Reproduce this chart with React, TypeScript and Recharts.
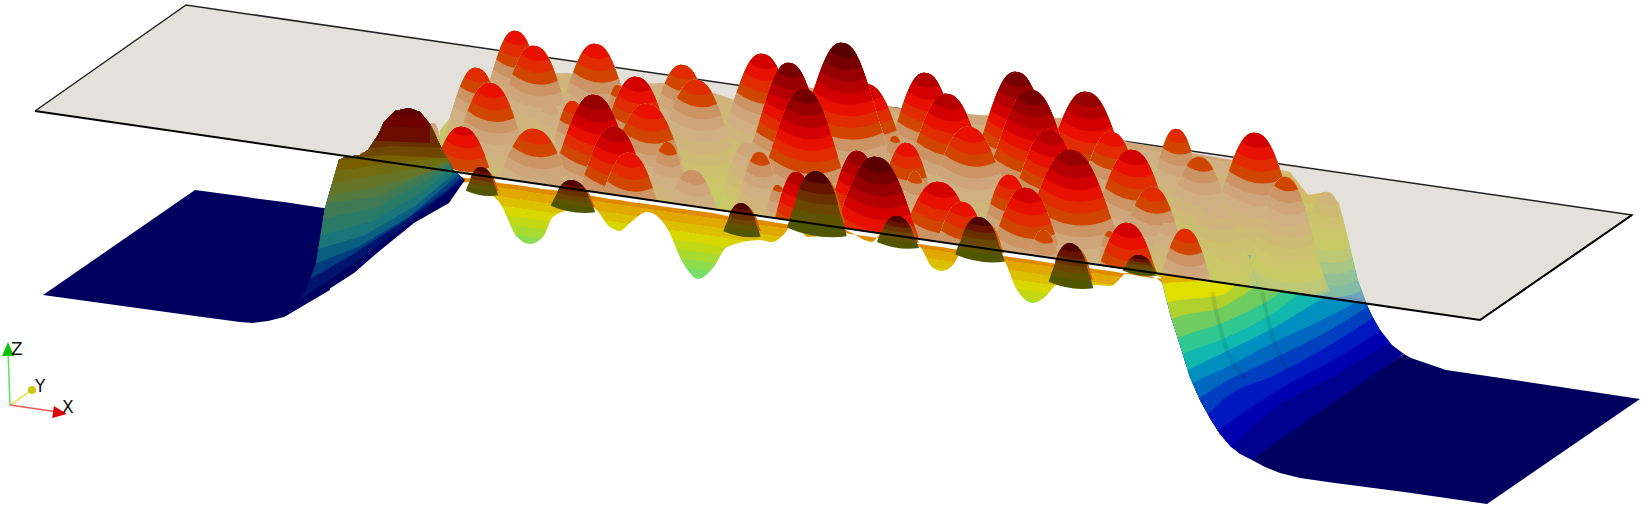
import { Area, ComposedChart, Line, Scatter, XAxis, YAxis } from 'recharts';

const WIDTH = 1642;
const HEIGHT = 508;

// plane corners and edges
const planeX = [35, 186, 1480, 1632];
const planeTop = [111, 5, 193, 215];
const planeBottom = [111, 133, 320, 215];
const planeBack = [{ x: 35, y: 111 }, { x: 186, y: 5 }, { x: 1632, y: 215 }, { x: 1480, y: 320 }];
const planeFront = [{ x: 35, y: 111 }, { x: 1480, y: 320 }, { x: 1632, y: 215 }];

// flat floors
const leftFloorX = [43, 195, 225, 240, 253, 268, 284, 330];
const leftFloorTop = [295, 190, 194, 196, 198, 200, 202, 209];
const leftFloorBottom = [295, 316, 320, 322, 323, 321, 317, 290];
const rightFloorX = [1252, 1265, 1280, 1300, 1335, 1404, 1411, 1446, 1487, 1640];
const rightFloorTop = [458, 448, 438, 424, 398, 354, 358, 370, 376, 399];
const rightFloorBottom = [460, 467, 473, 478, 483, 492, 493, 498, 504, 399];

// washed surface seen through the plane
const bodyX = [440, 470, 500, 568, 617, 680, 735, 760, 800, 897, 980, 1063, 1128, 1232, 1290];
const bodyTop = [130, 95, 75, 73, 85, 82, 100, 90, 85, 108, 115, 118, 142, 160, 172];
const bodyBottom = [170, 175, 180, 190, 197, 206, 214, 218, 223, 238, 249, 261, 271, 286, 295];
const bodyStops = ['#cfa67a', '#d0b082', '#cfb47c', '#cdbb74', '#cdc06e', '#cbc66a', '#c8c964', '#c8c964'];

const washX = [1230, 1290, 1308, 1327, 1339, 1349, 1358, 1367];
const washTop = [160, 172, 195, 192, 203, 243, 280, 304];
const washBottom = [285, 294, 296, 299, 301, 302, 303, 304];
const washStops = ['#d6b868', '#d3be68', '#cdc46a', '#c3c670', '#b4c57a', '#a4c284', '#94bf90', '#84bb9c', '#78b8a6', '#70b2b0', '#6ca6b6', '#7098bc'];

// domes: apex, spread in px, first colour level
const domeX = [516, 535, 596, 477, 491, 683, 697, 637, 618, 595, 648, 573, 535, 615, 630, 668, 693, 760, 778, 763, 790, 843, 805, 867, 926, 948, 1017, 1032, 1087, 970, 1050, 1072, 1112, 1133, 1177, 1200, 1256, 895, 907, 915, 858, 877, 940, 963, 1010, 1027, 1087, 1153, 1128, 1044, 1110, 1186, 1216, 1167, 1230, 1286, 1327, 550, 517, 555, 748, 797, 433, 365];
const domeY = [31, 46, 44, 68, 83, 65, 80, 77, 85, 95, 104, 101, 129, 127, 153, 142, 170, 152, 185, 54, 63, 43, 89, 84, 73, 94, 72, 90, 92, 127, 130, 150, 132, 150, 129, 157, 133, 136, 143, 171, 151, 157, 182, 202, 175, 188, 187, 187, 223, 230, 231, 229, 203, 223, 249, 177, 192, 102, 127, 173, 143, 172, 123, 152];
const domeSpread = [26, 30, 30, 27, 31, 29, 32, 31, 16, 32, 34, 21, 36, 31, 30, 20, 29, 22, 16, 30, 28, 30, 30, 34, 29, 32, 30, 32, 33, 34, 31, 36, 29, 32, 23, 29, 31, 16, 26, 16, 26, 34, 36, 29, 26, 32, 29, 29, 31, 21, 16, 26, 34, 18, 29, 26, 23, 20, 20, 23, 26, 23, 13, 18];
const domeLevel = [5, 5, 5, 6, 5, 6, 6, 4, 7, 2, 5, 6, 6, 3, 5, 7, 8, 7, 7.5, 4, 1, 0, 1, 4, 3, 3, 1, 1, 2, 5, 3, 2, 5, 4, 6, 7, 4, 7.5, 5, 7, 2, 0, 4, 5, 5, 4, 6, 6, 4, 7, 7.5, 6, 10, 9, 13, 7, 11, 9, 10, 9, 9, 3, 9, 10];

const levelColors = ['#5a0000', '#760000', '#960000', '#b40000', '#d20000', '#e81000', '#e02c00', '#d04600', '#cc9465', '#cfa67a', '#d0b082', '#cfb47c', '#cdbb74', '#cdc06e', '#cbc66a', '#c8c964', '#bcc876', '#a8c686', '#94c096', '#82bca4'];

// front wall under the front edge of the plane
const wallX = [460, 473, 483, 500, 517, 530, 543, 553, 570, 593, 610, 620, 630, 647, 667, 683, 698, 713, 727, 760, 772, 785, 793, 808, 823, 840, 850, 872, 883, 920, 932, 942, 953, 963, 1003, 1017, 1033, 1045, 1057, 1083, 1095, 1110, 1128, 1153, 1165];
const wallBottom = [183, 182, 190, 203, 237, 244, 237, 217, 210, 208, 227, 231, 223, 212, 228, 263, 279, 268, 247, 240, 242, 233, 223, 237, 235, 228, 232, 242, 232, 247, 267, 271, 265, 250, 260, 290, 303, 297, 285, 289, 285, 286, 273, 277, 285];
const wallTop = [177, 179, 180, 183, 185, 187, 189, 190, 193, 196, 199, 200, 202, 204, 207, 209, 211, 213, 216, 220, 222, 224, 225, 227, 230, 232, 234, 237, 239, 244, 246, 247, 249, 250, 256, 258, 260, 262, 264, 267, 269, 271, 274, 278, 279];
const wallStops = ['#e08a00', '#e0a800', '#dcc000', '#d8d800', '#c2d814', '#a8da30', '#8edc50', '#78de6a', '#66e07e'];

// dark arches along the front edge
const archX = [482, 573, 742, 817, 898, 980, 1071, 1140];
const archY = [167, 180, 203, 171, 216, 217, 243, 255];
const archWidth = [13, 18, 15, 24, 17, 20, 18, 14];
const archLow = [193, 209, 234, 232, 245, 258, 285, 273];
const archColors = ['#4f0000', '#661400', '#6a3000', '#6a4600', '#5f5200', '#505600'];

// red ridge beside the left wall, drawn above the front edge
const shoulderX = [463];
const shoulderY = [127];
const shoulderSpread = [32];
const shoulderLevel = [4.5];
const shoulderLast = [7];

// left wall: outline, then height contours from low to high
const leftOutline = [[284, 317], [305, 293], [316, 263], [325, 208], [339, 160], [345, 157], [360, 155], [368, 150], [378, 135], [384, 122], [395, 111], [409, 108], [420, 112], [430, 124], [440, 145], [453, 170], [465, 180], [460, 187], [449, 203], [414, 223], [377, 253], [354, 273], [323, 293]];
const leftColors = ['#00005f', '#00146e', '#003c80', '#0a5f80', '#1a7578', '#2a7a68', '#3f7a55', '#557a40', '#667428', '#726c10', '#785f00', '#6e4800', '#6a3000', '#6a0c00', '#6e0000', '#5a0000'];
const leftContours = [
  [[270, 337], [480, 200]],
  [[270, 322], [300, 300], [350, 266], [400, 230], [440, 198], [470, 175]],
  [[270, 315], [305, 282], [350, 256], [400, 224], [445, 192], [470, 170]],
  [[270, 290], [310, 266], [360, 246], [410, 216], [450, 182], [470, 165]],
  [[270, 270], [315, 250], [365, 235], [415, 206], [450, 177], [470, 160]],
  [[270, 250], [318, 236], [370, 222], [420, 194], [445, 174], [470, 155]],
  [[270, 232], [322, 219], [375, 208], [420, 184], [440, 172], [470, 150]],
  [[270, 215], [325, 204], [380, 196], [420, 176], [440, 168], [470, 145]],
  [[270, 208], [328, 196], [380, 186], [430, 172], [470, 150]],
  [[270, 193], [332, 183], [380, 175], [435, 165], [470, 152]],
  [[270, 180], [336, 171], [380, 165], [440, 158], [470, 152]],
  [[270, 168], [340, 160], [385, 155], [445, 158], [470, 158]],
  [[270, 158], [350, 151], [390, 146], [445, 148]],
  [[270, 143], [360, 140], [430, 143]],
  [[270, 126], [370, 126], [430, 128]],
  [[270, 115], [385, 115], [430, 115]],
];

// right wall under the plane edge
const rightOutline = [[1150, 272], [1366, 303], [1372, 316], [1380, 330], [1392, 345], [1404, 354], [1252, 460], [1240, 454], [1231, 447], [1220, 434], [1211, 420], [1200, 400], [1190, 377], [1180, 345], [1171, 317], [1161, 277]];
const rightColors = ['#000090', '#0000b0', '#0018c0', '#0040c0', '#0068c0', '#0090c0', '#10b8b0', '#30c890', '#70cc60', '#b0d030', '#e0e000', '#e0b000'];
const rightContours = [
  [[1140, 540], [1240, 468], [1420, 343]],
  [[1140, 510], [1225, 452], [1275, 408], [1330, 378], [1420, 325]],
  [[1140, 490], [1212, 435], [1275, 392], [1330, 362], [1420, 305]],
  [[1140, 470], [1204, 418], [1225, 398], [1275, 375], [1330, 345], [1420, 285]],
  [[1140, 445], [1197, 400], [1225, 382], [1275, 358], [1330, 330], [1420, 270]],
  [[1140, 425], [1190, 385], [1225, 368], [1275, 342], [1330, 316], [1420, 265]],
  [[1140, 405], [1185, 372], [1225, 352], [1275, 327], [1320, 300], [1420, 250]],
  [[1140, 385], [1180, 356], [1225, 338], [1275, 312], [1305, 290], [1420, 240]],
  [[1140, 365], [1175, 340], [1225, 322], [1275, 296], [1290, 285], [1420, 230]],
  [[1140, 340], [1170, 320], [1225, 306], [1260, 284], [1420, 220]],
  [[1140, 315], [1165, 303], [1225, 294], [1240, 280], [1420, 210]],
  [[1140, 292], [1160, 284], [1205, 280], [1220, 275], [1420, 200]],
];
const rightCreases = [
  [{ x: 1212, y: 292 }, { x: 1222, y: 335 }, { x: 1245, y: 378 }],
  [{ x: 1262, y: 292 }, { x: 1272, y: 335 }, { x: 1290, y: 372 }],
];

// axis triad at lower left
const triadOrigin = { x: 10, y: 405 };
const triadEnds = [{ x: 8, y: 350, color: '#5fe05f' }, { x: 32, y: 390, color: '#e8e020' }, { x: 58, y: 412, color: '#ee5a5a' }];
const triadHeads = [
  { x: 8, y: 349, angle: 0, color: '#10c010' },
  { x: 60, y: 413, angle: 98, color: '#e00000' },
];
const triadBall = [{ x: 32, y: 390 }];
const triadLabels = [
  { x: 11, y: 355, text: 'Z' },
  { x: 35, y: 392, text: 'Y' },
  { x: 62, y: 413, text: 'X' },
];

const SLOPE_DEG = 8.2;
const BAND = 10.5;
const LAST_LEVEL = 19;
const BELL_POWER = 2.4;
const BELL_WIDTH = 1.27;

function bellPoints(spread: number, drop: number, tall: number) {
  const s = spread * BELL_WIDTH;
  const reach = s * Math.pow(Math.log(tall / (tall - drop)), 1 / BELL_POWER);
  const pts: string[] = [];
  for (let i = 0; i <= 20; i++) {
    const u = -reach + (2 * reach * i) / 20;
    const y = tall * (1 - Math.exp(-Math.pow(Math.abs(u) / s, BELL_POWER)));
    pts.push(`${i === 0 ? 'M' : 'L'}${u.toFixed(1)} ${y.toFixed(1)}`);
  }
  return { d: pts.join(' '), reach };
}

function DomeShape(props: any) {
  const { cx, cy, payload } = props;
  const { spread, level, last = LAST_LEVEL } = payload;
  const tall = 125;
  const caps = [];
  for (let lv = last; lv >= Math.floor(level); lv--) {
    const drop = Math.min((lv + 1 - level) * BAND, tall * 0.86);
    const { d, reach } = bellPoints(spread, drop, tall);
    const sag = reach * 0.6;
    caps.push(<path key={lv} d={`${d} Q0 ${(drop + sag).toFixed(1)} ${(-reach).toFixed(1)} ${drop.toFixed(1)} Z`} fill={levelColors[lv]} />);
  }
  return <g transform={`translate(${cx} ${cy}) skewY(${SLOPE_DEG})`}>{caps}</g>;
}

// rounded arch that flares a little where it meets the wall
function archCap(width: number, depth: number, drop: number, sag: number) {
  const edge = (t: number) => width * Math.sqrt(1 - (1 - t) * (1 - t)) * (t > 0.6 ? 1 + (t - 0.6) * 0.6 : 1);
  const tEnd = drop / depth;
  const pts: string[] = [];
  for (let i = 12; i >= 0; i--) {
    const t = tEnd * (i / 12);
    pts.push(`${i === 12 ? 'M' : 'L'}${(-edge(t)).toFixed(1)} ${(t * depth).toFixed(1)}`);
  }
  for (let i = 1; i <= 12; i++) {
    const t = tEnd * (i / 12);
    pts.push(`L${edge(t).toFixed(1)} ${(t * depth).toFixed(1)}`);
  }
  return `${pts.join(' ')} Q0 ${(drop + sag).toFixed(1)} ${(-edge(tEnd)).toFixed(1)} ${drop.toFixed(1)} Z`;
}

function ArchShape(props: any) {
  const { cx, cy, payload } = props;
  const { width, low } = payload;
  const depth = low - cy;
  const caps = [];
  for (let i = archColors.length - 1; i >= 0; i--) {
    const drop = (depth * (i + 1)) / archColors.length;
    const sag = i === archColors.length - 1 ? width * 0.35 : width * 0.18;
    caps.push(<path key={i} d={archCap(width, depth, drop, sag)} fill={archColors[i]} />);
  }
  return (
    <g transform={`translate(${cx} ${cy}) skewY(${SLOPE_DEG})`}>
      <path transform="translate(3 2)" d={archCap(width, depth, depth * 0.75, 0)} fill="#d05a00" />
      {caps}
    </g>
  );
}

function HeadShape(props: any) {
  const { cx, cy, payload } = props;
  return <path transform={`translate(${cx} ${cy}) rotate(${payload.angle})`} d="M0 -7 L6 7 L-6 7 Z" fill={payload.color} />;
}

function BallShape(props: any) {
  return <circle cx={props.cx} cy={props.cy} r={4} fill="#cfc810" />;
}

function TextShape(props: any) {
  return <text x={props.cx} y={props.cy} fontFamily="DejaVu Sans" fontSize={17} fill="#111">{props.payload.text}</text>;
}

const rangeRows = (xs: number[], lo: number[], hi: number[]) => xs.map((x, i) => ({ x, r: [lo[i], hi[i]] }));
const contourRows = (c: number[][]) => c.map(([x, y]) => ({ x, r: [y, 0] }));
const zipRows = (xs: number[], ys: number[], extra: (i: number) => object) => xs.map((x, i) => ({ x, y: ys[i], ...extra(i) }));

// back to front: depth of the spot where the dome meets the plane
const domeDepth = (d: any) => d.y + (8 - d.level) * BAND - 0.145 * d.x;
const domes = zipRows(domeX, domeY, (i) => ({ spread: domeSpread[i], level: domeLevel[i] })).sort((a, b) => domeDepth(a) - domeDepth(b));
const arches = zipRows(archX, archY, (i) => ({ width: archWidth[i], low: archLow[i] }));
const shoulders = zipRows(shoulderX, shoulderY, (i) => ({ spread: shoulderSpread[i], level: shoulderLevel[i], last: shoulderLast[i] }));

function steppedStops(colors: string[]) {
  return colors.flatMap((c, i) => [
    <stop key={`${i}a`} offset={i / colors.length} stopColor={c} />,
    <stop key={`${i}b`} offset={(i + 1) / colors.length} stopColor={c} />,
  ]);
}

const polyPoints = (o: number[][]) => o.map((p) => p.join(',')).join(' ');

export default function App() {
  let z = 1;
  const area = (key: string, data: object[], fill: string, clip?: string, curve: any = 'linear') => (
    <Area
      key={key}
      data={data}
      dataKey="r"
      type={curve}
      fill={fill}
      fillOpacity={1}
      stroke="none"
      dot={false}
      activeDot={false}
      style={clip ? { clipPath: clip } : undefined}
      zIndex={z++}
      isAnimationActive={false}
    />
  );

  return (
    <div style={{ position: 'absolute', left: 0, top: 0, width: WIDTH, height: HEIGHT, background: '#fff' }}>
      <ComposedChart width={WIDTH} height={HEIGHT} margin={{ top: 0, right: 0, bottom: 0, left: 0 }}>
        <defs>
          <linearGradient id="bodyGrad" gradientUnits="userSpaceOnUse" x1="800" y1="85" x2="785" y2="185">
            {steppedStops(bodyStops)}
          </linearGradient>
          <linearGradient id="washGrad" gradientUnits="userSpaceOnUse" x1="1330" y1="186" x2="1318" y2="304">
            {steppedStops(washStops)}
          </linearGradient>
          <linearGradient id="wallGrad" gradientUnits="userSpaceOnUse" x1="800" y1="221.6" x2="788.6" y2="300.8">
            {steppedStops(wallStops)}
          </linearGradient>
          <clipPath id="leftClip">
            <polygon points={polyPoints(leftOutline)} />
          </clipPath>
          <clipPath id="rightClip">
            <polygon points={polyPoints(rightOutline)} />
          </clipPath>
        </defs>
        <XAxis type="number" dataKey="x" domain={[0, WIDTH]} hide allowDataOverflow />
        <YAxis type="number" dataKey="y" domain={[0, HEIGHT]} reversed hide allowDataOverflow />

        {area('plane', rangeRows(planeX, planeTop, planeBottom), '#e3e1da')}
        <Line data={planeBack} dataKey="y" type="linear" stroke="#222" strokeWidth={1.5} dot={false} activeDot={false} zIndex={z++} isAnimationActive={false} />
        {area('body', rangeRows(bodyX, bodyTop, bodyBottom), 'url(#bodyGrad)')}
        {area('wash', rangeRows(washX, washTop, washBottom), 'url(#washGrad)')}
        <Scatter data={domes} shape={DomeShape} zIndex={z++} isAnimationActive={false} />
        {area('mask', rangeRows(planeX.slice(1, 3), [133, 320], [HEIGHT, HEIGHT]), '#fff')}
        {area('leftFloor', rangeRows(leftFloorX, leftFloorTop, leftFloorBottom), '#00005f')}
        {area('rightFloor', rangeRows(rightFloorX, rightFloorTop, rightFloorBottom), '#00005f')}
        {area('wall', rangeRows(wallX, wallTop, wallBottom), 'url(#wallGrad)', undefined, 'monotoneX')}
        <Scatter data={shoulders} shape={DomeShape} zIndex={z++} isAnimationActive={false} />
        <Scatter data={arches} shape={ArchShape} zIndex={z++} isAnimationActive={false} />
        {leftContours.map((c, i) => area(`left${i}`, contourRows(c), leftColors[i], 'url(#leftClip)'))}
        {rightContours.map((c, i) => area(`right${i}`, contourRows(c), rightColors[i], 'url(#rightClip)', 'monotoneX'))}
        {rightCreases.map((c, i) => (
          <Line key={i} data={c} dataKey="y" type="monotone" stroke="rgba(0,20,50,0.1)" strokeWidth={4} dot={false} activeDot={false} zIndex={z++} isAnimationActive={false} />
        ))}
        <Line data={planeFront} dataKey="y" type="linear" stroke="#000" strokeWidth={2} dot={false} activeDot={false} zIndex={z++} isAnimationActive={false} />

        {triadEnds.map((e, i) => (
          <Line key={i} data={[triadOrigin, e]} dataKey="y" type="linear" stroke={e.color} strokeWidth={1.5} dot={false} activeDot={false} zIndex={z++} isAnimationActive={false} />
        ))}
        <Scatter data={triadHeads} shape={HeadShape} zIndex={z++} isAnimationActive={false} />
        <Scatter data={triadBall} shape={BallShape} zIndex={z++} isAnimationActive={false} />
        <Scatter data={triadLabels} shape={TextShape} zIndex={z++} isAnimationActive={false} />
      </ComposedChart>
    </div>
  );
}
